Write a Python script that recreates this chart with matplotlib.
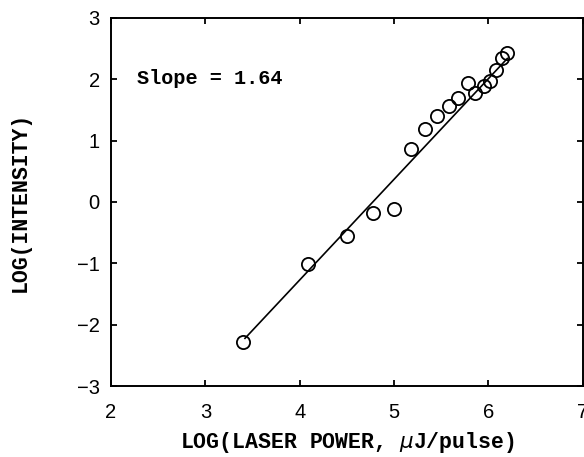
import matplotlib
matplotlib.use("Agg")
import matplotlib.pyplot as plt
import numpy as np

# Data
log_power = [3.40, 4.09, 4.50, 4.78, 5.00, 5.18, 5.33, 5.46, 5.58, 5.68,
             5.78, 5.86, 5.95, 6.02, 6.08, 6.14, 6.20]
log_intensity = [-2.28, -1.01, -0.56, -0.18, -0.12, 0.86, 1.19, 1.40, 1.57, 1.70,
                 1.94, 1.77, 1.89, 1.97, 2.15, 2.35, 2.43]
fit_slope = 1.64
fit_intercept = -7.83
fit_range = [3.42, 6.20]
x_ticks = [2, 3, 4, 5, 6, 7]
y_ticks = [-3, -2, -1, 0, 1, 2, 3]

fig = plt.figure(figsize=(5.84, 4.57), dpi=100)
ax = fig.add_axes([0.190, 0.155, 0.808, 0.806])

fx = np.array(fit_range)
ax.plot(fx, fit_slope * fx + fit_intercept, color="black", lw=1.2, zorder=2)
ax.plot(log_power, log_intensity, linestyle="none", marker="o", ms=9.5,
        mfc="none", mec="black", mew=1.3, zorder=3)

ax.set_xlim(2, 7)
ax.set_ylim(-3, 3)
ax.set_xticks(x_ticks)
ax.set_yticks(y_ticks)
ax.tick_params(direction="in", length=4, width=1.3, top=True, right=True,
               labelsize=14.5)
ax.tick_params(axis="x", pad=12)
ax.tick_params(axis="y", pad=8)
for lab in ax.get_xticklabels() + ax.get_yticklabels():
    lab.set_fontfamily("Liberation Sans")
for s in ax.spines.values():
    s.set_linewidth(1.4)

mono = dict(family="Liberation Mono", weight="bold")
ax.set_xlabel("LOG(LASER POWER, $\\mu$J/pulse)", fontsize=15.5, labelpad=6, **mono)
ax.set_ylabel("LOG(INTENSITY)", fontsize=15.5, labelpad=33, **mono)
ax.text(0.055, 0.835, "Slope = 1.64", transform=ax.transAxes, fontsize=14.5,
        va="center", ha="left", **mono)

fig.savefig("out.png", dpi=100)
